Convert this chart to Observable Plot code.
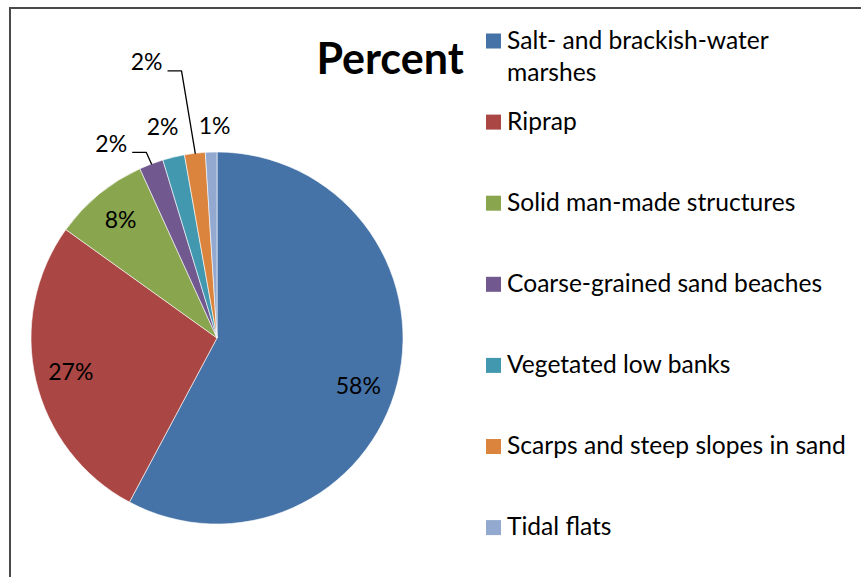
<!DOCTYPE html>
<html>
<head>
<meta charset="utf-8">
<script src="https://cdn.jsdelivr.net/npm/d3@7"></script>
<script src="https://cdn.jsdelivr.net/npm/@observablehq/plot@0.6"></script>
<style>
  html, body { margin: 0; padding: 0; background: #fff; }
  #chart svg { display: block; }
</style>
</head>
<body>
<div id="chart"></div>
<script>
// ---------- data ----------
const title = "Percent";
const categories = [
  "Salt- and brackish-water marshes",
  "Riprap",
  "Solid man-made structures",
  "Coarse-grained sand beaches",
  "Vegetated low banks",
  "Scarps and steep slopes in sand",
  "Tidal flats"
];
const legendLabels = [
  "Salt- and brackish-water\nmarshes",
  "Riprap",
  "Solid man-made structures",
  "Coarse-grained sand beaches",
  "Vegetated low banks",
  "Scarps and steep slopes in sand",
  "Tidal flats"
];
const values = [57.8, 27.1, 8.3, 2.1, 1.9, 1.8, 1.0];
const valueLabels = ["58%", "27%", "8%", "2%", "2%", "2%", "1%"];
const colors = ["#4572A7", "#AA4643", "#89A54E", "#71588F", "#4198AF", "#DB843D", "#93A9CF"];

// ---------- layout (styles / placement) ----------
const W = 861, H = 577;
const CX = 217, CY = 338, R = 186;
const labelRadius = [0.80, 0.81, 0.82, 1.19, 1.17, 1.53, 1.14];
const labelShiftDeg = [4.8, 0, 0, -8, -1.1, -7.6, 1];
const hasLeader = [false, false, false, true, false, true, false];
const FONT = "Lato, 'Open Sans', sans-serif";

const arcs = d3.pie().sort(null).value(d => d)(values);
const rad = Math.PI / 180;

const slices = categories.map((c, i) => {
  const a = arcs[i];
  const mid = (a.startAngle + a.endAngle) / 2;
  const la = mid + labelShiftDeg[i] * rad;
  const k = labelRadius[i] * R;
  return {
    category: c,
    value: values[i],
    label: valueLabels[i],
    color: colors[i],
    start: a.startAngle,
    end: a.endAngle,
    mid,
    lx: CX + k * Math.sin(la),
    ly: CY - k * Math.cos(la)
  };
});

const leaders = [];
slices.forEach((s, i) => {
  if (!hasLeader[i]) return;
  leaders.push({z: i, x: s.lx + 21, y: s.ly + 8});
  leaders.push({z: i, x: s.lx + 35, y: s.ly + 8});
  leaders.push({z: i, x: CX + R * Math.sin(s.mid), y: CY - R * Math.cos(s.mid)});
});

const LEG_Y0 = 41, LEG_DY = 81.1, LEG_FS = 24.6, LEG_LINE = 32.7;
const legend = legendLabels.map((t, i) => ({
  text: t, color: colors[i], c: LEG_Y0 + i * LEG_DY
}));
// one entry per text line so each baseline sits level with its swatch
const legendLines = legend.flatMap(d =>
  d.text.split("\n").map((line, j) => ({line, y: d.c - 0.6 + j * LEG_LINE}))
);

// pie slices drawn through Plot's x / y scales
function pieMark(index, scales) {
  const X = scales.x, Y = scales.y;
  const r = X(CX + R) - X(CX);
  const arc = d3.arc().innerRadius(0).outerRadius(r);
  const g = d3.create("svg:g").attr("transform", `translate(${X(CX)},${Y(CY)})`);
  g.selectAll("path")
    .data(slices)
    .join("path")
    .attr("d", d => arc({startAngle: d.start, endAngle: d.end}))
    .attr("fill", d => d.color)
    .attr("stroke", "#ffffff")
    .attr("stroke-width", 0.6)
    .attr("stroke-linejoin", "round");
  return g.node();
}

const chart = Plot.plot({
  width: W,
  height: H,
  margin: 0,
  style: {background: "#fff", fontFamily: FONT, color: "#000", overflow: "visible"},
  x: {domain: [0, W], range: [0, W], axis: null},
  y: {domain: [0, H], range: [0, H], axis: null},
  marks: [
    // frame (top & left border)
    Plot.ruleY([7.5], {x1: 9, x2: W, stroke: "#4a4a4a", strokeWidth: 2}),
    Plot.ruleX([9.5], {y1: 7, y2: H, stroke: "#4a4a4a", strokeWidth: 2}),
    pieMark,
    // leader lines
    Plot.line(leaders, {x: "x", y: "y", z: "z", stroke: "#000", strokeWidth: 1.3, strokeLinecap: "butt", strokeLinejoin: "miter"}),
    // value labels
    Plot.text(slices, {x: "lx", y: "ly", text: "label", fontSize: 23, fill: "#000", textAnchor: "middle", lineAnchor: "middle"}),
    // title
    Plot.text([title], {x: [389.5], y: [59.5], text: d => d, fontSize: 43, fontWeight: "bold", fill: "#000", textAnchor: "middle", lineAnchor: "middle"}),
    // legend swatches
    Plot.rect(legend, {x1: 486, x2: 501, y1: d => d.c - 7.5, y2: d => d.c + 7.5, fill: "color"}),
    // legend text
    Plot.text(legendLines, {x: 506.5, y: "y", text: "line", fontSize: LEG_FS, fill: "#000", textAnchor: "start", lineAnchor: "middle"})
  ]
});

document.getElementById("chart").appendChild(chart);
</script>
</body>
</html>
